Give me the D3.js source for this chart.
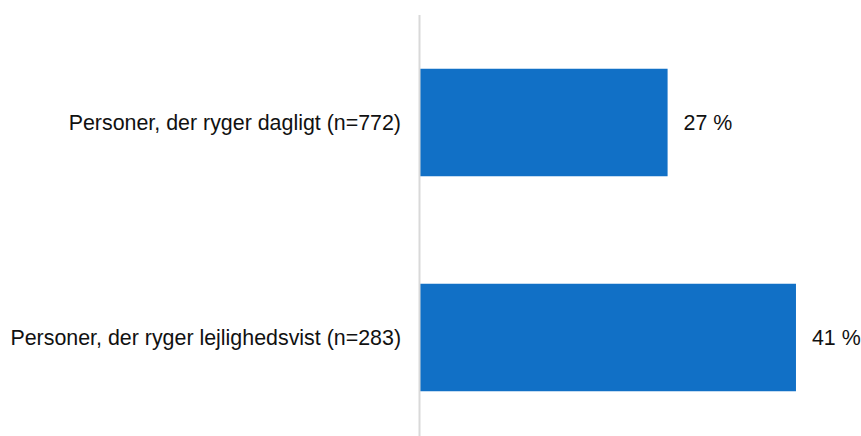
<!DOCTYPE html>
<html>
<head>
<meta charset="utf-8">
<script src="https://cdn.jsdelivr.net/npm/d3@7"></script>
<style>
  body { margin: 0; background: #fff; }
  svg { display: block; font-family: "Liberation Sans", Arial, sans-serif; }
</style>
</head>
<body>
<svg id="chart" width="861" height="436"></svg>
<script>
const CATEGORIES = [
  'Personer, der ryger dagligt (n=772)',
  'Personer, der ryger lejlighedsvist (n=283)'
];
const VALUES = [27, 41];

function drawChart() {
  const svg = d3.select('#chart');
  const height = 436;
  const left = 420;

  const y = d3.scaleBand()
    .domain(CATEGORIES)
    .range([15, 445])
    .paddingInner(0.5)
    .paddingOuter(0.25);

  const x = d3.scaleLinear()
    .domain([0, 100])
    .range([left, left + 917]);

  const data = CATEGORIES.map((c, i) => ({ label: c, value: VALUES[i] }));

  svg.selectAll('rect.bar')
    .data(data)
    .enter()
    .append('rect')
    .attr('class', 'bar')
    .attr('x', x(0))
    .attr('y', d => y(d.label))
    .attr('width', d => x(d.value) - x(0))
    .attr('height', y.bandwidth())
    .attr('fill', '#1170C6');

  // axis line
  svg.append('line')
    .attr('x1', x(0) - 0.5)
    .attr('x2', x(0) - 0.5)
    .attr('y1', 15)
    .attr('y2', height)
    .attr('stroke', '#d9d9d9')
    .attr('stroke-width', 2);

  svg.selectAll('text.cat')
    .data(data)
    .enter()
    .append('text')
    .attr('class', 'cat')
    .attr('x', 401)
    .attr('y', d => y(d.label) + y.bandwidth() / 2)
    .attr('dy', '0.35em')
    .attr('text-anchor', 'end')
    .attr('font-size', 21.4)
    .attr('fill', '#111')
    .text(d => d.label);

  svg.selectAll('text.val')
    .data(data)
    .enter()
    .append('text')
    .attr('class', 'val')
    .attr('x', d => x(d.value) + 16)
    .attr('y', d => y(d.label) + y.bandwidth() / 2)
    .attr('dy', '0.35em')
    .attr('font-size', 21.4)
    .attr('fill', '#111')
    .text(d => `${d.value} %`);
}

window.addEventListener('DOMContentLoaded', drawChart);
</script>
</body>
</html>
